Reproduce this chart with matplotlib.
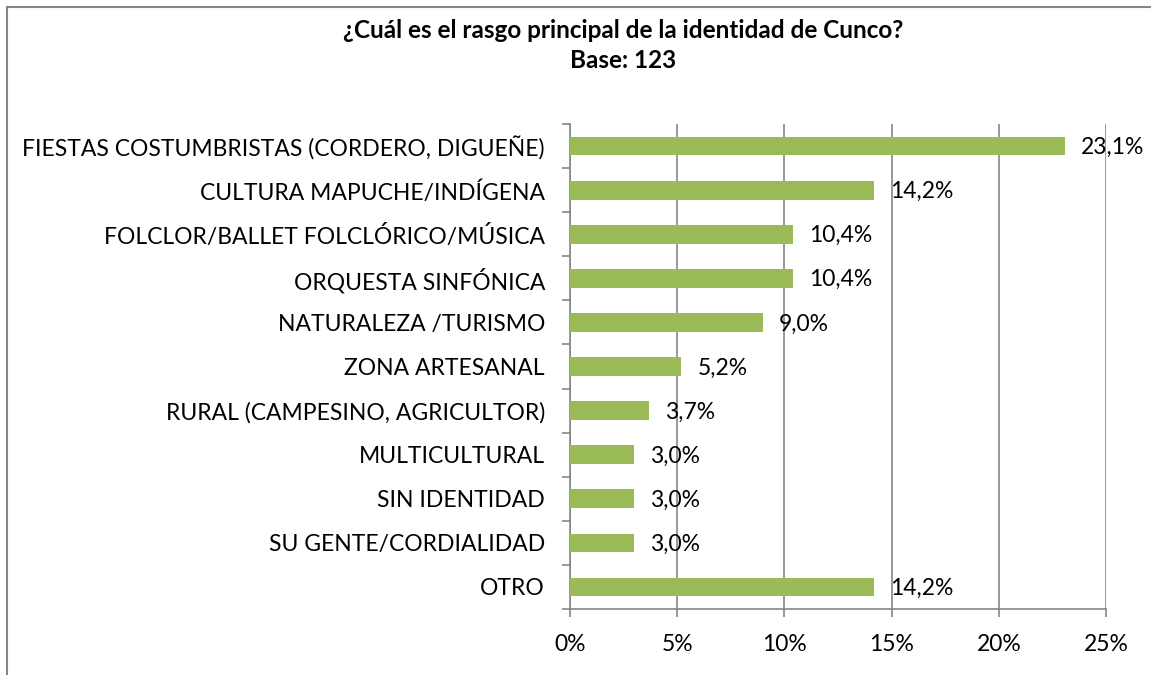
import matplotlib
matplotlib.use("Agg")
import matplotlib.pyplot as plt
from matplotlib.patches import Rectangle

plt.rcParams["font.family"] = ["Lato", "DejaVu Sans"]

# Data
categories = [
    "FIESTAS COSTUMBRISTAS (CORDERO, DIGUEÑE)",
    "CULTURA MAPUCHE/INDÍGENA",
    "FOLCLOR/BALLET FOLCLÓRICO/MÚSICA",
    "ORQUESTA SINFÓNICA",
    "NATURALEZA /TURISMO",
    "ZONA ARTESANAL",
    "RURAL (CAMPESINO, AGRICULTOR)",
    "MULTICULTURAL",
    "SIN IDENTIDAD",
    "SU GENTE/CORDIALIDAD",
    "OTRO",
]
values = [23.1, 14.2, 10.4, 10.4, 9.0, 5.2, 3.7, 3.0, 3.0, 3.0, 14.2]
xticks = [0, 5, 10, 15, 20, 25]

fig = plt.figure(figsize=(11.51, 6.75), dpi=100)
ax = fig.add_axes([0.4952, 0.098, 0.4657, 0.718])

y = list(range(len(categories)))
ax.barh(y, values, height=0.42, color="#9BBB59", zorder=3)
for yi, v in zip(y, values):
    ax.annotate(f"{v:.1f}%".replace(".", ","), (v, yi), xytext=(11.5, -1),
                textcoords="offset points", va="center", ha="left",
                fontsize=16.5, zorder=4)

ax.set_ylim(len(categories) - 0.5, -0.5)
ax.set_xlim(0, 25)
ax.set_xticks(xticks)
ax.set_xticklabels([f"{t}%" for t in xticks], fontsize=16.5)
ax.set_yticks(y)
ax.set_yticklabels(categories, fontsize=16.5)
ax.set_yticks([i + 0.5 for i in range(-1, len(categories))], minor=True)
ax.tick_params(axis="y", which="major", length=0, pad=18)
ax.tick_params(axis="y", which="minor", length=6, color="#868686", width=1.2)
ax.tick_params(axis="x", length=6, color="#868686", width=1.2, pad=12)
ax.xaxis.grid(True, color="#868686", linewidth=1.2, zorder=0)

for s in ["top", "right"]:
    ax.spines[s].set_visible(False)
for s in ["left", "bottom"]:
    ax.spines[s].set_color("#868686")
    ax.spines[s].set_linewidth(1.2)

fig.text(0.5415, 0.955, "¿Cuál es el rasgo principal de la identidad de Cunco?",
         ha="center", va="center", fontsize=17.5, fontweight="bold")
fig.text(0.5415, 0.910, "Base: 123", ha="center", va="center",
         fontsize=17.5, fontweight="bold")

# outer frame
fig.patches.append(Rectangle((0.006, -0.02), 1.0, 1.01, transform=fig.transFigure,
                             fill=False, edgecolor="#868686", linewidth=1.5))

fig.savefig("out.png", dpi=100)
